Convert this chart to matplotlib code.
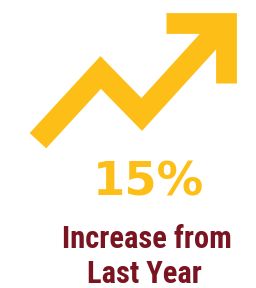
import matplotlib
matplotlib.use("Agg")
from matplotlib import pyplot as plt

# colours
gold = "#FCBE17"
maroon = "#7A1420"

# trend line (pixel space of the 256x288 image, y grows downward)
trend_x = [37.9, 100.7, 141.7, 224.0]
trend_y = [140.7, 72.5, 114.5, 24.0]

# arrow head chevron
head_x = [166.0, 225.9, 225.9]
head_y = [23.4, 23.4, 82.7]

big_number = "15%"
caption_lines = ["Increase from", "Last Year"]

fig = plt.figure(figsize=(2.56, 2.88), dpi=100)
ax = fig.add_axes([0, 0, 1, 1])
ax.set_xlim(0, 256)
ax.set_ylim(288, 0)
ax.axis("off")

# px -> pt
pt = 72 / 100

ax.plot(trend_x, trend_y, color=gold, linewidth=22.5 * pt,
        solid_joinstyle="miter", solid_capstyle="butt")
ax.plot(head_x, head_y, color=gold, linewidth=20.8 * pt,
        solid_joinstyle="miter", solid_capstyle="butt")

ax.text(148, 196, big_number, color=gold, fontsize=33.5, fontweight="bold",
        family="DejaVu Sans", ha="center", va="baseline")

caption_font = ["Roboto Condensed", "Archivo Narrow", "Liberation Sans"]
ax.text(146.5, 248.3, caption_lines[0], color=maroon, fontsize=22,
        fontweight="bold", family=caption_font, ha="center", va="baseline")
ax.text(144, 283.3, caption_lines[1], color=maroon, fontsize=22,
        fontweight="bold", family=caption_font, ha="center", va="baseline")

fig.savefig("out.png", dpi=100)
